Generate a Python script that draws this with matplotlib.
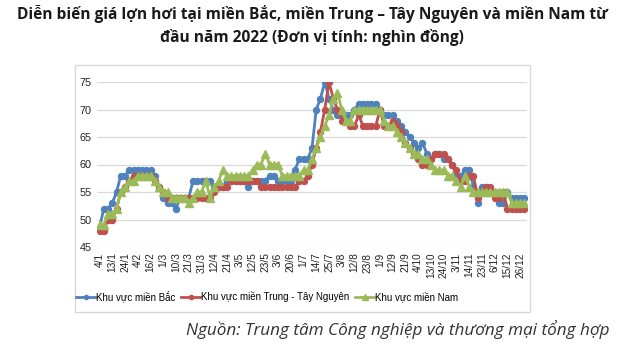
import matplotlib.pyplot as plt
from matplotlib.patches import Rectangle

# Giá lợn hơi (nghìn đồng/kg) - 3 điểm mỗi khoảng nhãn
bac = [48.5, 52, 52, 53, 55, 58, 58, 59, 59, 59, 59, 59, 59, 58, 56, 54, 53, 53, 52, 54,
       54, 54, 57, 57, 57, 57, 57, 56, 56, 56, 57, 57, 57, 57, 57, 56, 57, 57, 57, 57,
       58, 58, 57, 57, 57, 57, 59, 61, 61, 61, 63, 70, 72, 75, 72, 70, 69, 69, 69, 69,
       70, 71, 71, 71, 71, 71, 70, 69, 69, 69, 68, 67, 66, 65, 64, 63, 64, 62, 61, 62,
       62, 61, 61, 60, 58, 58, 59, 59, 56, 53, 56, 56, 55, 55, 53, 53, 55, 54, 54, 54,
       54]
trung = [48, 48, 50, 50, 52, 55, 56, 57, 58, 58, 58, 58, 58, 57, 56, 55, 54, 54, 54, 54,
         54, 54, 54, 54, 54, 54, 54, 55, 56, 56, 56, 57, 57, 57, 57, 57, 57, 57, 56, 56,
         56, 56, 56, 56, 56, 56, 56, 57, 57, 58, 60, 63, 66, 70, 75, 72, 70, 68, 68, 67,
         67, 69, 67, 67, 67, 67, 70, 67, 67, 68, 67, 66, 64, 63, 62, 61, 60, 60, 61, 62,
         62, 62, 61, 60, 59, 57, 57, 58, 58, 54, 55, 56, 56, 54, 54, 55, 52, 52, 52, 52,
         52]
nam = [49, 49, 51, 51, 52, 55, 56, 57, 57, 58, 58, 58, 58, 57, 56, 55, 55, 54, 54, 54,
       54, 53, 54, 55, 55, 57, 54, 56, 57, 59, 58, 58, 58, 58, 58, 58, 59, 60, 60, 62,
       60, 60, 60, 58, 58, 58, 58, 58, 59, 59, 61, 63, 65, 67, 69, 72, 73, 70, 68, 68,
       70, 70, 70, 70, 70, 70, 70, 68, 67, 67, 66, 65, 64, 63, 62, 62, 61, 61, 60, 59,
       59, 59, 58, 58, 57, 56, 58, 56, 55, 55, 55, 55, 55, 55, 55, 55, 55, 53, 53, 53,
       53]
ngay = ['4/1', '13/1', '24/1', '4/2', '16/2', '1/3', '10/3', '21/3', '31/3', '12/4',
        '21/4', '3/5', '12/5', '23/5', '3/6', '20/6', '1/7', '14/7', '25/7', '3/8',
        '12/8', '23/8', '1/9', '12/9', '21/9', '4/10', '13/10', '24/10', '3/11', '14/11',
        '23/11', '6/12', '15/12', '26/12']
ten = ['Khu vực miền Bắc', 'Khu vực miền Trung - Tây Nguyên', 'Khu vực miền Nam']

W, H = 624, 360
fig = plt.figure(figsize=(W / 100, H / 100), dpi=100)
fig.patch.set_facecolor('white')

# khung biểu đồ
fig.patches.append(Rectangle((75 / W, 1 - 312 / H), 455 / W, 247 / H,
                             transform=fig.transFigure, fill=False,
                             edgecolor='#D9D9D9', linewidth=1))

ax = fig.add_axes([97 / W, 1 - 247 / H, 430 / W, 165 / H])
x = list(range(len(bac)))
ax.plot(x, bac, color='#4F81BD', marker='o', markersize=4.3, linewidth=2, label=ten[0])
ax.plot(x, trung, color='#C0504D', marker='o', markersize=4.3, linewidth=2, label=ten[1])
ax.plot(x, nam, color='#9BBB59', marker='^', markersize=5.2, linewidth=2, label=ten[2])

ax.set_ylim(45, 75)
ax.set_yticks(range(45, 76, 5))
ax.set_xlim(-0.6, len(bac) - 0.4)
ax.set_xticks(range(0, 3 * len(ngay), 3))
ax.set_xticklabels(ngay, rotation=90, fontsize=7.3, family='Liberation Sans', color='#222222')
for lb in ax.get_yticklabels():
    lb.set_fontsize(7.8)
    lb.set_family('Liberation Sans')
    lb.set_color('#222222')
ax.tick_params(axis='both', length=0, pad=4)
ax.grid(axis='y', color='#D9D9D9', linewidth=0.9)
ax.set_axisbelow(True)
for s in ax.spines.values():
    s.set_visible(False)

leg = fig.legend(loc='center', bbox_to_anchor=(267 / W, 1 - 296 / H), ncol=3,
                 frameon=False, prop={'family': 'Liberation Sans', 'size': 7},
                 handlelength=2.0, handletextpad=0.05, columnspacing=0.6,
                 markerscale=0.7)

fig.text(312 / W, 1 - 14 / H, 'Diễn biến giá lợn hơi tại miền Bắc, miền Trung – Tây Nguyên và miền Nam từ',
         ha='center', va='center', fontsize=11.2, fontweight='bold', family='Open Sans', color='#1a1a1a')
fig.text(312 / W, 1 - 37 / H, 'đầu năm 2022 (Đơn vị tính: nghìn đồng)',
         ha='center', va='center', fontsize=11.2, fontweight='bold', family='Open Sans', color='#1a1a1a')
fig.text(610 / W, 1 - 330 / H, 'Nguồn: Trung tâm Công nghiệp và thương mại tổng hợp',
         ha='right', va='center', fontsize=12.3, style='italic', family='Open Sans', color='#333333')

fig.savefig('out.png', dpi=100)
